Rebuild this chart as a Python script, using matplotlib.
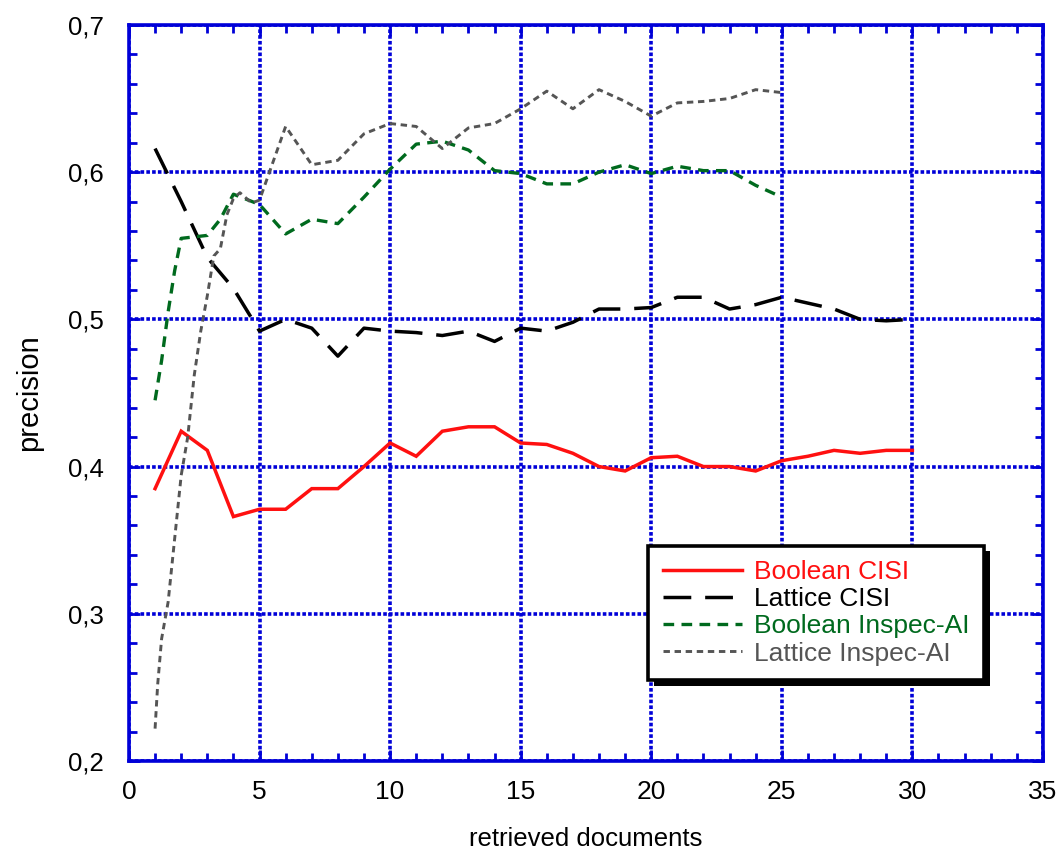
import matplotlib
matplotlib.use("Agg")
import matplotlib.pyplot as plt
from matplotlib.ticker import MultipleLocator, FuncFormatter
import matplotlib.patheffects as pe

# --- data ---
x_bool_cisi = list(range(1, 31))
bool_cisi = [0.385, 0.424, 0.411, 0.366, 0.371, 0.371, 0.385, 0.385, 0.400, 0.416,
             0.407, 0.424, 0.427, 0.427, 0.416, 0.415, 0.409, 0.400, 0.397, 0.406,
             0.407, 0.400, 0.400, 0.397, 0.404, 0.407, 0.411, 0.409, 0.411, 0.411]

x_latt_cisi = list(range(1, 31))
latt_cisi = [0.616, 0.580, 0.542, 0.521, 0.492, 0.500, 0.494, 0.475, 0.494, 0.492,
             0.491, 0.489, 0.492, 0.485, 0.494, 0.492, 0.498, 0.507, 0.507, 0.508,
             0.515, 0.515, 0.507, 0.510, 0.515, 0.511, 0.507, 0.500, 0.499, 0.500]

x_bool_insp = [1, 1.25, 1.5, 1.75, 2, 2.5, 3, 3.5, 4, 5, 6, 7, 8, 9, 10, 11, 12, 13,
               14, 15, 16, 17, 18, 19, 20, 21, 22, 23, 24, 25]
bool_insp = [0.445, 0.472, 0.505, 0.533, 0.555, 0.556, 0.557, 0.568, 0.585, 0.578,
             0.558, 0.568, 0.565, 0.583, 0.602, 0.619, 0.621, 0.615, 0.601, 0.599,
             0.592, 0.592, 0.600, 0.605, 0.599, 0.604, 0.601, 0.601, 0.591, 0.583]

x_latt_insp = [1, 1.1, 1.25, 1.5, 1.75, 2, 2.25, 2.5, 2.75, 3, 3.25, 3.5, 3.75, 4,
               4.25, 4.7, 5, 6, 7, 8, 9, 10, 11, 12, 13, 14, 15, 16, 17, 18, 19,
               20, 21, 22, 23, 24, 25]
latt_insp = [0.222, 0.252, 0.283, 0.308, 0.351, 0.394, 0.420, 0.462, 0.492, 0.516,
             0.543, 0.548, 0.571, 0.582, 0.586, 0.579, 0.581, 0.631, 0.605, 0.608,
             0.626, 0.633, 0.631, 0.616, 0.630, 0.633, 0.643, 0.655, 0.643, 0.656,
             0.648, 0.638, 0.647, 0.648, 0.650, 0.656, 0.654]

BLUE = "#0000d8"
RED = "#ff1010"
GREEN = "#006a1e"
GRAY = "#555555"

plt.rcParams.update({
    "font.family": ["Liberation Sans", "DejaVu Sans"],
    "font.size": 18,
})

fig = plt.figure(figsize=(10.64, 8.52), dpi=100)
ax = fig.add_axes([0.1212, 0.1068, 0.8590, 0.8640])

ax.plot(x_bool_cisi, bool_cisi, color=RED, lw=2.5, solid_joinstyle="miter",
        label="Boolean CISI")
ax.plot(x_latt_cisi, latt_cisi, color="black", lw=2.5, dashes=(8, 4),
        label="Lattice CISI")
ax.plot(x_bool_insp, bool_insp, color=GREEN, lw=2.4, dashes=(3.2, 2.2),
        label="Boolean Inspec-AI")
ax.plot(x_latt_insp, latt_insp, color=GRAY, lw=2.1, dashes=(2.2, 1.6),
        label="Lattice Inspec-AI")

ax.set_xlim(0, 35)
ax.set_ylim(0.2, 0.7)
ax.xaxis.set_major_locator(MultipleLocator(5))
ax.xaxis.set_minor_locator(MultipleLocator(1))
ax.yaxis.set_major_locator(MultipleLocator(0.1))
ax.yaxis.set_minor_locator(MultipleLocator(0.02))
ax.yaxis.set_major_formatter(FuncFormatter(lambda v, p: f"{v:.1f}".replace(".", ",")))
ax.xaxis.set_major_formatter(FuncFormatter(lambda v, p: f"{v:.0f}"))

ax.grid(True, which="major", color=BLUE, lw=2.6, linestyle=(0, (1.0, 0.6)))
ax.set_axisbelow(True)
for s in ax.spines.values():
    s.set_color(BLUE)
    s.set_linewidth(2.6)
ax.tick_params(which="both", direction="in", top=True, right=True, color=BLUE,
               labelcolor="black", width=2)
ax.tick_params(which="major", length=8)
ax.tick_params(which="minor", length=6)
ax.tick_params(axis="x", labelsize=19, pad=14)
ax.tick_params(axis="y", labelsize=18.5, pad=18)

ax.set_xlabel("retrieved documents", fontsize=18.5, labelpad=16)
ax.set_ylabel("precision", fontsize=21, labelpad=18)

leg = ax.legend(loc="lower right", bbox_to_anchor=(0.950, 0.092), fancybox=False,
                framealpha=1, edgecolor="black", handlelength=3.0,
                handletextpad=0.45, labelspacing=0.12, borderpad=0.55, fontsize=19)
leg.get_frame().set_linewidth(2.6)
leg.get_frame().set_path_effects([pe.SimplePatchShadow(offset=(4, -4), shadow_rgbFace="black", alpha=1),
                                  pe.Normal()])
for txt, c in zip(leg.get_texts(), [RED, "black", GREEN, GRAY]):
    txt.set_color(c)

fig.savefig("out.png", dpi=100)
